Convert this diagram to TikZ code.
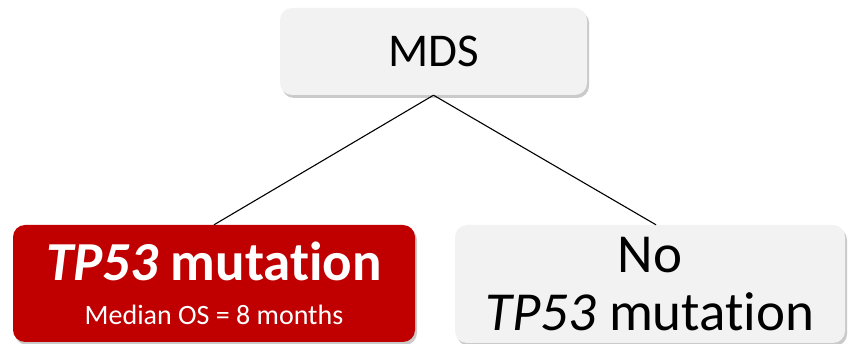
\documentclass[tikz,border=0pt]{standalone}
\usepackage{fontspec}
\setmainfont{Carlito}[Ligatures=NoCommon]
\usepackage{xcolor}
\usetikzlibrary{positioning,shadows,calc}
\definecolor{boxgray}{HTML}{F2F2F2}
\definecolor{boxred}{HTML}{C00000}
\tikzset{
	tree box/.style={rounded corners=12pt,minimum width=#1,align=center,inner sep=0pt,
		drop shadow={shadow xshift=2pt,shadow yshift=-3pt,opacity=0.35,fill=black!60}},
	gray box/.style={tree box=#1,fill=boxgray,text=black},
	red box/.style={tree box=#1,fill=boxred,text=white},
	branch/.style={draw=black,line width=1.1pt}
}
\begin{document}
	\begin{tikzpicture}[x=1pt,y=-1pt]
		\useasboundingbox (0,0) rectangle (849,344);
		\node[gray box=307pt,minimum height=87pt,font=\fontsize{47}{50}\selectfont] (mds) at (433.5,51.5) {MDS};
		\node[red box=402pt,minimum height=117pt,font=\fontsize{55}{44}\selectfont] (tp) at (214,283.5) {\bfseries\itshape TP53\upshape{} mutation\\
			\fontsize{28}{44}\selectfont Median OS = 8 months};
		\node[gray box=390pt,minimum height=118pt,font=\fontsize{55}{58}\selectfont] (notp) at (650,284) {No\\\itshape TP53\upshape{} mutation};
		\draw[branch] (mds.south) -- (tp.north);
		\draw[branch] (mds.south) -- ($(notp.north)+(6,0)$);
	\end{tikzpicture}
\end{document}
